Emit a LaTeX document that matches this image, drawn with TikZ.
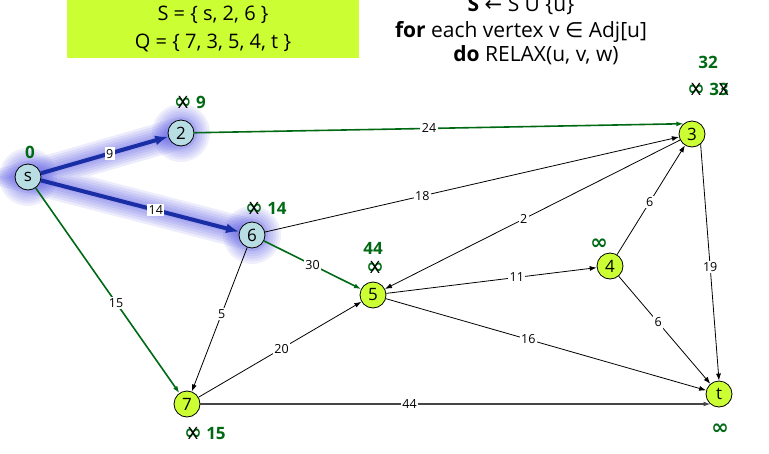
\documentclass[tikz,border=0pt]{standalone}
\usepackage{fontspec}
\setmainfont{Open Sans}
\newfontfamily\symfont{DejaVu Sans}
\usetikzlibrary{arrows.meta,calc,backgrounds}
\definecolor{limey}{RGB}{204,255,51}
\definecolor{paleblue}{RGB}{184,221,226}
\definecolor{dkgreen}{RGB}{0,105,20}
\definecolor{pathblue}{RGB}{25,45,165}
\definecolor{glowblue}{RGB}{80,80,225}
\definecolor{edgegray}{RGB}{70,70,70}
\newcommand{\infsym}{{\symfont\bfseries\fontsize{21}{16}\selectfont ∞}}
\newcommand{\crossout}[1]{{\ooalign{#1\cr\hidewidth{\color{black}\mdseries X}\hidewidth\cr}}}

\begin{document}
\begin{tikzpicture}[x=1pt, y=-1pt,
  vtx/.style={circle, draw, line width=0.8pt, minimum size=26pt, inner sep=0pt, font=\fontsize{17}{17}\selectfont},
  done/.style={vtx, fill=paleblue},
  todo/.style={vtx, fill=limey},
  wt/.style={fill=white, inner sep=1.5pt, text=black, font=\fontsize{12.5}{12.5}\selectfont},
  arc/.style={-{Latex[length=7pt,width=5pt]}, line width=0.8pt},
  tree/.style={arc, dkgreen, line width=1.6pt},
  best/.style={-{Latex[length=13pt,width=10pt]}, pathblue, line width=4pt},
  dist/.style={text=dkgreen, font=\fontsize{17}{17}\selectfont\bfseries}]
\useasboundingbox (0,0) rectangle (769,453);
\clip (0,0) rectangle (769,453);

% sets and pseudo code
\node[fill=limey, minimum width=292pt, minimum height=58pt, inner sep=0pt, align=center,
  font=\fontsize{20}{28}\selectfont] (sets) at (213,29) {S = \{ s, 2, 6 \}\\ Q = \{ 7, 3, 5, 4, t \}};
\node[font=\fontsize{21}{21}\selectfont] (hdra) at (521,6) {\textbf{S} {\symfont ←} S U \{u\}};
\node[font=\fontsize{21}{21}\selectfont] (hdrb) at (521,32) {\textbf{for} each vertex v {\symfont ∈} Adj[u]};
\node[font=\fontsize{21}{21}\selectfont] (hdrc) at (536,55) {\textbf{do} RELAX(u, v, w)};

% vertices
\node[done] (s) at (28,177) {s};
\node[done] (v2) at (181,133) {2};
\node[done] (v6) at (252,235) {6};
\node[todo] (v7) at (187,404) {7};
\node[todo] (v5) at (373,295) {5};
\node[todo] (v4) at (610,266) {4};
\node[todo] (v3) at (692,134) {3};
\node[todo] (t) at (719,394) {t};
\coordinate (t44) at ($(t.center)+(-8.5,10)$);

% glow around the shortest paths
\begin{scope}[on background layer]
\foreach \w in {32,27,22,17,12,7} {
  \draw[glowblue, opacity=0.11, line width=\w pt, line cap=round] (v2.center) -- (s.center) -- (v6.center);
  \foreach \v in {s,v2,v6}
    \fill[glowblue, opacity=0.09] (\v.center) circle[radius=13+0.5*\w];
}
\end{scope}

% edges
\draw[best] (s) -- node[wt, pos=.54] {9} (v2);
\draw[best] (s) -- node[wt, pos=.58] {14} (v6);
\draw[tree] (s) -- node[wt, pos=.56] {15} (v7);
\draw[tree] (v2) -- node[wt, pos=.48] {24} (v3.130);
\draw[tree] (v6) -- node[wt, pos=.5] {30} (v5);
\draw[arc] (v6) -- node[wt, pos=.38] {18} (v3);
\draw[arc] (v6) -- node[wt, pos=.46] {5} (v7);
\draw[arc] (v7) -- node[wt, pos=.51] {20} (v5);
\draw[arc, edgegray, line width=1.3pt] (v7) -- node[wt, pos=.41] {44} (t44);
\draw[arc] (v5) -- node[wt, pos=.62] {11} (v4);
\draw[arc] (v5) -- node[wt, pos=.445] {16} (t);
\draw[arc] (v3) -- node[wt, pos=.53] {2} (v5);
\draw[arc] (v4) -- node[wt, pos=.48] {6} (v3);
\draw[arc] (v4) -- node[wt, pos=.43] {6} (t);
\draw[arc] (v3.-50) -- node[wt, pos=.52] {19} (t.north);

% distance estimates
\node[dist] (ds) at (30,152) {0};
\node[dist] (d2) at (190,102) {\crossout{\infsym} 9};
\node[dist] (d6) at (266,208) {\crossout{\infsym} 14};
\node[dist] (d5a) at (373,248) {44};
\node[dist] (d5b) at (375,268) {\crossout{\infsym}};
\node[dist] (d3a) at (708,62) {32};
\node[dist] (d3b) at (708,89) {\crossout{\infsym} 3\crossout{3}};
\node[dist] (d4) at (599,244) {\infsym};
\node[dist] (dt) at (720,429) {\infsym};
\node[dist] (d7) at (205,434) {\crossout{\infsym} 15};
\end{tikzpicture}
\end{document}
